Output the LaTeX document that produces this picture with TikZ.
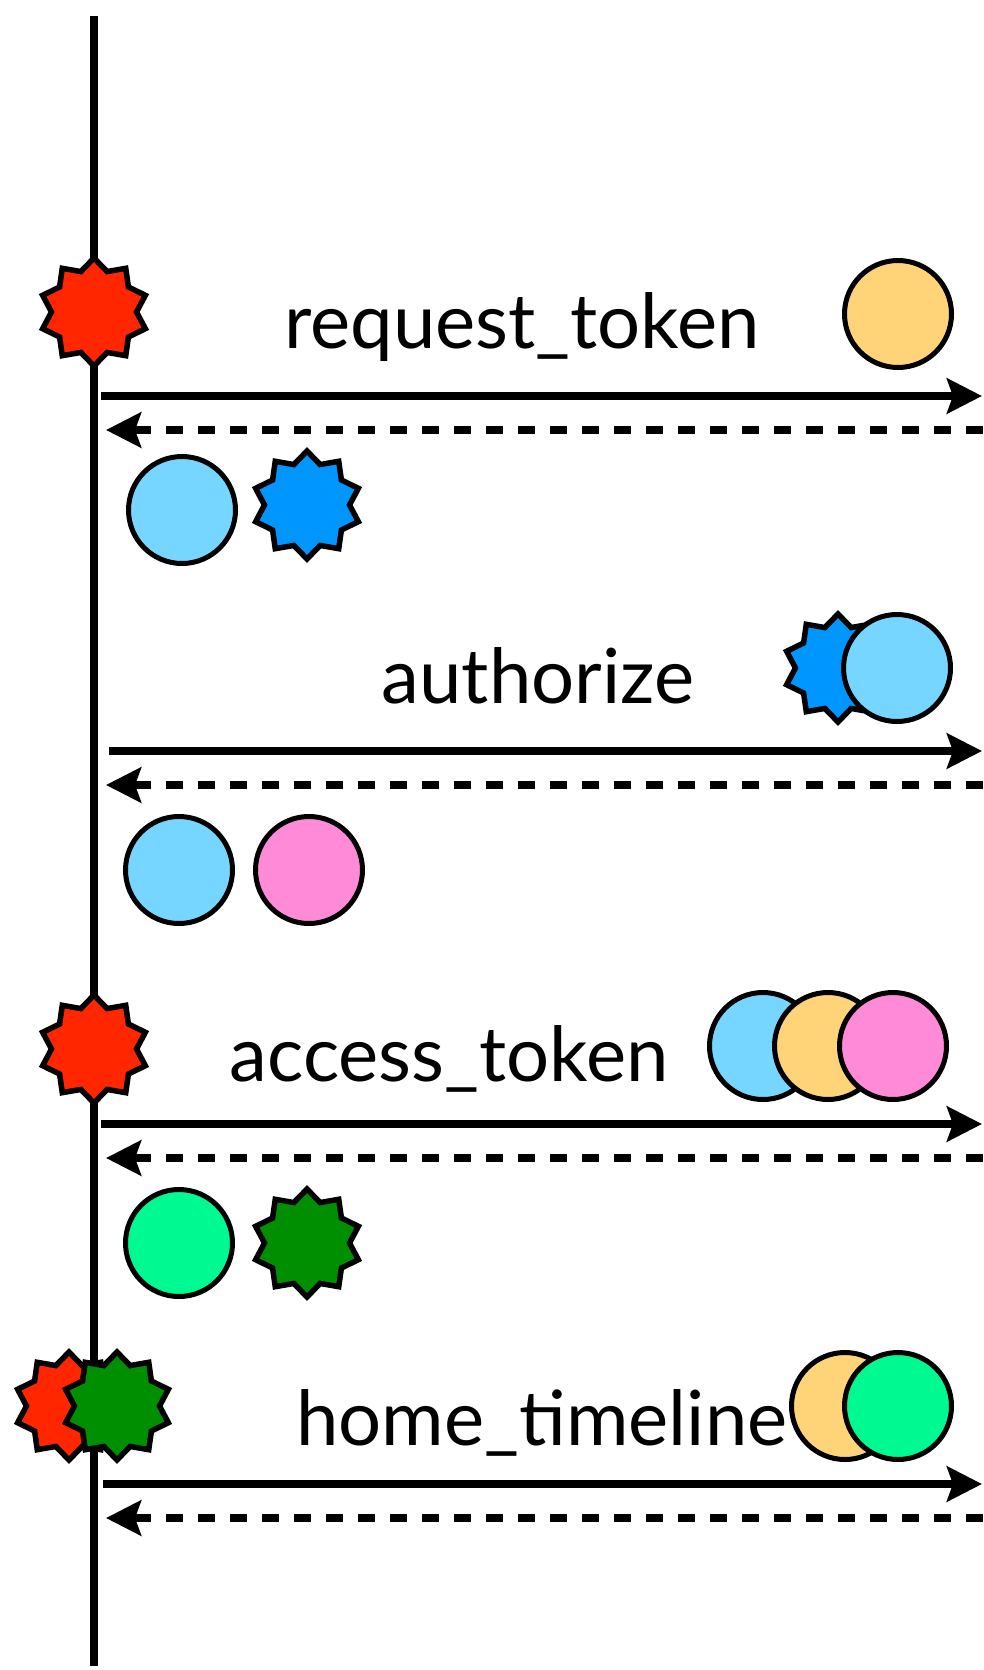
\documentclass[tikz,border=0pt]{standalone}
\usepackage{fontspec}
\setmainfont{Lato}
\usetikzlibrary{shapes.geometric,arrows.meta}
\definecolor{maraschino}{HTML}{FF2600}
\definecolor{cantaloupe}{HTML}{FFD479}
\definecolor{sky}{HTML}{76D6FF}
\definecolor{aqua}{HTML}{0096FF}
\definecolor{carnation}{HTML}{FF8AD8}
\definecolor{seafoam}{HTML}{00FA92}
\definecolor{clover}{HTML}{008F00}

\begin{document}
\begin{tikzpicture}
[x=1pt,y=-1pt,
  lifeDecorate/.style={line width=7.5pt},%
  callDecorate/.style={-{Stealth[length=35pt,width=35pt,inset=6pt]},line width=7.5pt},%
  replyDecorate/.style={-{Stealth[length=35pt,width=35pt,inset=6pt]},line width=7.5pt,dash pattern=on 17pt off 15pt},%
  starDecorate/.style={shape=star,star points=10,star point ratio=1.27,minimum size=108pt,inner sep=0pt,draw,line width=5.5pt},
  ballDecorate/.style={shape=circle,minimum size=107pt,inner sep=0pt,draw,line width=5pt},
  labelDecorate/.style={anchor=base,inner sep=0pt,font=\fontsize{76}{80}\selectfont}]
\useasboundingbox (0,0) rectangle (983,1670);
%% life line
\coordinate (lifeTop) at (94,16);
\coordinate (lifeBottom) at (94,1666);
\draw[lifeDecorate] (lifeTop) -- (lifeBottom);
%% stars and balls
\foreach \nodename/\x/\y/\kind/\fillcolor in {
  client1/94/312/starDecorate/maraschino,
  consumer1/898/314/ballDecorate/cantaloupe,
  token1/182/510/ballDecorate/sky,
  secret1/307/505/starDecorate/aqua,
  secret2/838/668/starDecorate/aqua,
  token2/897/668/ballDecorate/sky,
  token3/179/870/ballDecorate/sky,
  verifier1/309/870/ballDecorate/carnation,
  client2/94/1049/starDecorate/maraschino,
  token4/763/1046/ballDecorate/sky,
  consumer2/828/1046/ballDecorate/cantaloupe,
  verifier2/893/1046/ballDecorate/carnation,
  access1/179/1243/ballDecorate/seafoam,
  accessSecret1/307/1243/starDecorate/clover,
  client3/69/1406/starDecorate/maraschino,
  accessSecret2/117/1406/starDecorate/clover,
  consumer3/845/1406/ballDecorate/cantaloupe,
  access2/898/1406/ballDecorate/seafoam}
{
  \node (\nodename) at (\x,\y) [\kind,fill=\fillcolor] {};
}
%% labels
\foreach \nodename/\x/\y/\text in {
  requestLabel/522/348/request\_token,
  authorizeLabel/538/703/authorize,
  accessLabel/449/1081/access\_token,
  timelineLabel/542/1445/home\_timeline}
{
  \node (\nodename) at (\x,\y) [labelDecorate] {\text};
}
%% calls and replies
\foreach \name/\xfrom/\xto/\y in {
  call1/101/982/396, reply1/983/106/430,
  call2/109/982/751, reply2/983/106/785,
  call3/101/982/1124, reply3/983/106/1158,
  call4/103/982/1484, reply4/983/106/1518}
{
  \coordinate (\name-start) at (\xfrom,\y);
  \coordinate (\name-end) at (\xto,\y);
}
\path
\foreach \n in {1,2,3,4}
{
  (call\n-start) edge[callDecorate] (call\n-end)
  (reply\n-start) edge[replyDecorate] (reply\n-end)
};
\end{tikzpicture}
\end{document}
